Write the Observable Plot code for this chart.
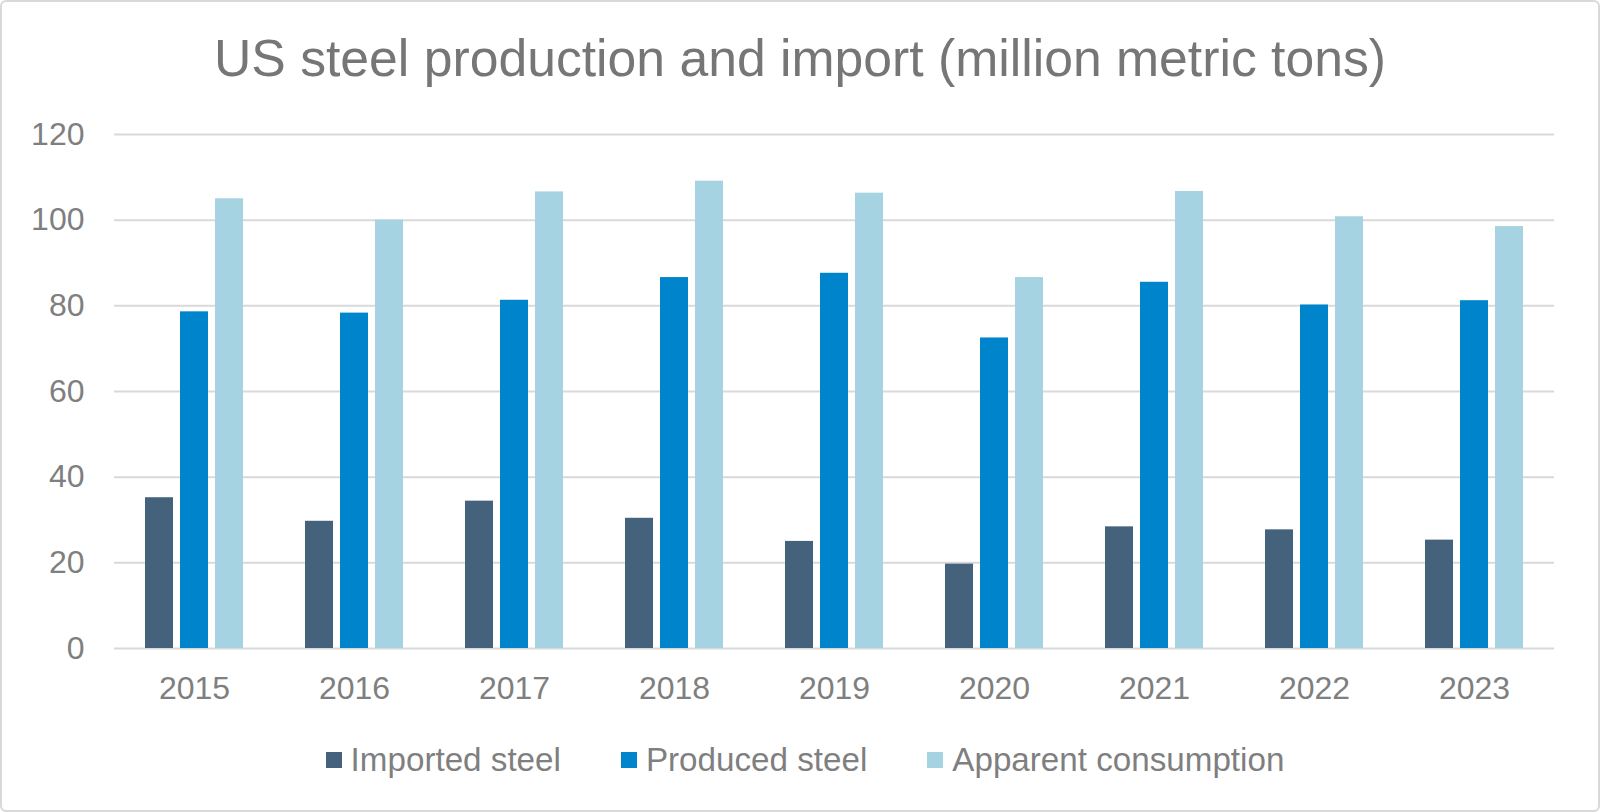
<!DOCTYPE html>
<html>
<head>
<meta charset="utf-8">
<script src="https://cdn.jsdelivr.net/npm/d3@7"></script>
<script src="https://cdn.jsdelivr.net/npm/@observablehq/plot@0.6"></script>
<style>
  html, body { margin: 0; padding: 0; background: #fff; }
  #wrap {
    position: relative; width: 1600px; height: 812px; box-sizing: border-box;
    font-family: "Liberation Sans", Arial, sans-serif; color: #7f7f7f;
  }
  #frame {
    position: absolute; left: 0; top: 0; width: 1600px; height: 812px; box-sizing: border-box;
    border: 2px solid #d9d9d9; border-radius: 6px; pointer-events: none;
  }
  #title {
    height: 100px; box-sizing: border-box; padding-top: 33px;
    font-size: 51.7px; line-height: 1; text-align: center; color: #767676;
  }
  #chart svg { display: block; }
  #legend {
    height: 80px; display: flex; align-items: center; justify-content: center;
    font-size: 33.2px; color: #7f7f7f; padding-left: 10px; box-sizing: border-box;
  }
  .item { display: flex; align-items: center; margin: 0 30px; }
  .sw { width: 16px; height: 16px; margin-right: 9px; }
</style>
</head>
<body>
<div id="wrap">
  <div id="title">US steel production and import (million metric tons)</div>
  <div id="chart"></div>
  <div id="legend"></div>
  <div id="frame"></div>
</div>
<script>
const years = ["2015", "2016", "2017", "2018", "2019", "2020", "2021", "2022", "2023"];
const seriesNames = ["Imported steel", "Produced steel", "Apparent consumption"];
const seriesColors = ["#44627c", "#0084cc", "#a6d3e2"];
const imported = [35.2, 29.7, 34.4, 30.4, 25.0, 19.7, 28.4, 27.7, 25.3];
const produced = [78.6, 78.3, 81.3, 86.6, 87.6, 72.5, 85.5, 80.2, 81.2];
const apparent = [105.0, 100.0, 106.6, 109.1, 106.3, 86.6, 106.7, 100.8, 98.5];
const yTicks = [0, 20, 40, 60, 80, 100, 120];

const seriesValues = [imported, produced, apparent];
const rows = years.flatMap((year, i) =>
  seriesNames.map((s, j) => ({year, series: s, value: seriesValues[j][i]}))
);

const chart = Plot.plot({
  width: 1600,
  height: 620,
  marginTop: 34,
  marginBottom: 72,
  marginLeft: 110,
  marginRight: 42,
  style: {fontFamily: "Liberation Sans, Arial, sans-serif", fontSize: "32px", color: "#7f7f7f", background: "transparent"},
  fx: {domain: years, padding: 0, label: null, tickSize: 0, tickPadding: 28, axis: "bottom"},
  x: {domain: seriesNames, paddingInner: 0.21, paddingOuter: 0.87, axis: null},
  y: {domain: [0, 120], ticks: yTicks, label: null, tickSize: 0, tickPadding: 30},
  color: {domain: seriesNames, range: seriesColors},
  marks: [
    Plot.gridY(yTicks, {stroke: "#d9d9d9", strokeOpacity: 1, strokeWidth: 2}),
    Plot.barY(rows, {fx: "year", x: "series", y: "value", fill: "series"})
  ]
});
document.getElementById("chart").appendChild(chart);

const legend = document.getElementById("legend");
seriesNames.forEach((name, i) => {
  const item = document.createElement("div");
  item.className = "item";
  const sw = document.createElement("div");
  sw.className = "sw";
  sw.style.background = seriesColors[i];
  const label = document.createElement("span");
  label.textContent = name;
  item.appendChild(sw);
  item.appendChild(label);
  legend.appendChild(item);
});
</script>
</body>
</html>
